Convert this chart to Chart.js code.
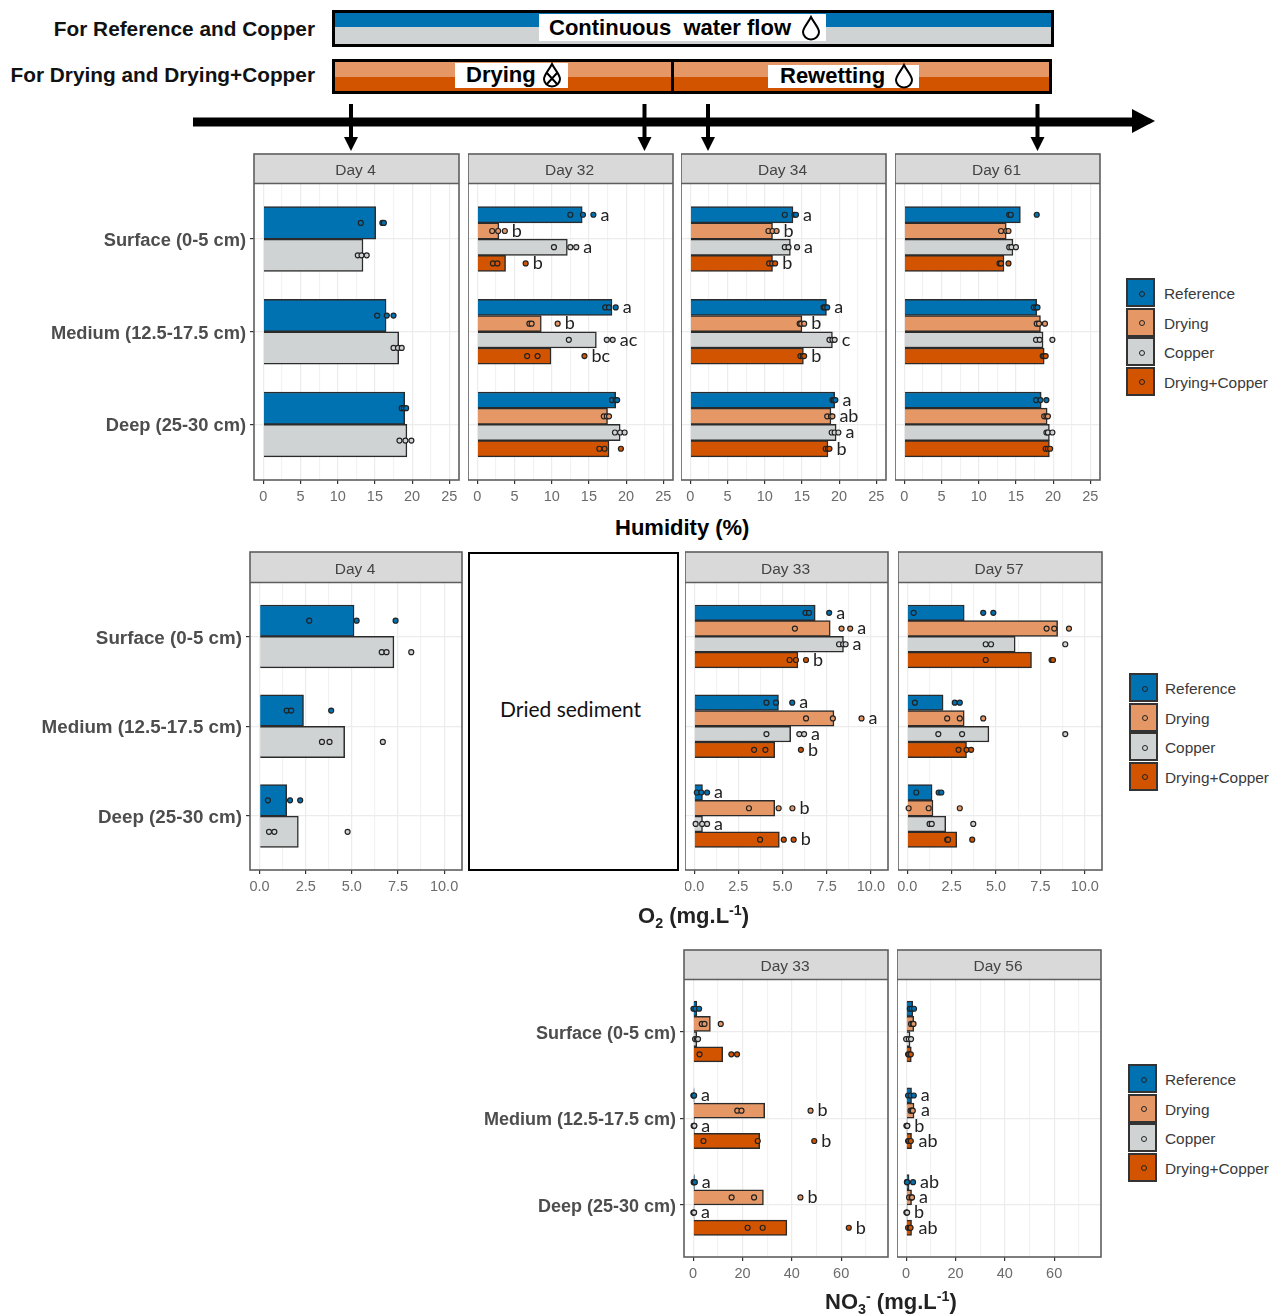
<!DOCTYPE html>
<html>
<head>
<meta charset="utf-8">
<title>Humidity, O2 and NO3 by depth</title>
<script src="https://cdn.jsdelivr.net/npm/chart.js@4/dist/chart.umd.min.js"></script>
<style>
  html, body { margin: 0; background: #fff; }
  #page { position: relative; width: 1284px; height: 1316px; overflow: hidden; font-family: "Liberation Sans", Arial, sans-serif; }
  #page canvas { position: absolute; }
  .txt { position: absolute; white-space: nowrap; line-height: 1; }
  .box { position: absolute; box-sizing: border-box; }
  .key { position: absolute; box-sizing: border-box; border: 2px solid #333; width: 29px; height: 29px; }
  .key i { position: absolute; left: 10.5px; top: 10.5px; width: 4px; height: 4px; border: 1px solid #222; border-radius: 50%; }
  sub, sup { font-size: 65%; line-height: 0; }
</style>
</head>
<body>
<div id="page">
  <svg id="deco" width="1284" height="160" style="position:absolute;left:0;top:0"></svg>
</div>
<script>
// depth rows and groups
const depths = ['Surface (0-5 cm)', 'Medium (12.5-17.5 cm)', 'Deep (25-30 cm)'];
const allSeries = ['Reference', 'Drying', 'Copper', 'Drying+Copper'];
const twoSeries = ['Reference', 'Copper'];
const colors = { 'Reference': '#0072B2', 'Drying': '#E59866', 'Copper': '#D0D3D4', 'Drying+Copper': '#D35400' };

// axis ticks
const humidityTicks = [0, 5, 10, 15, 20, 25];
const humidityLabels = ['0', '5', '10', '15', '20', '25'];
const o2Ticks = [0, 2.5, 5, 7.5, 10];
const o2Labels = ['0.0', '2.5', '5.0', '7.5', '10.0'];
const no3Ticks = [0, 20, 40, 60];
const no3Labels = ['0', '20', '40', '60'];

// Humidity (%), one row per depth, one entry per series
const humDay4Means = [[15.1, 13.4], [16.5, 18.2], [19.0, 19.3]];
const humDay4Points = [
  [[13.1, 16.0, 16.2], [12.7, 13.2, 13.9]],
  [[15.3, 16.6, 17.5], [17.5, 18.1, 18.6]],
  [[18.6, 18.9, 19.2], [18.3, 19.1, 19.9]]
];
const humDay32Means = [[14.1, 2.9, 12.1, 3.8], [18.1, 8.6, 16.0, 9.9], [18.6, 17.5, 19.2, 17.7]];
const humDay32Points = [
  [[12.5, 14.2, 15.6], [2.0, 2.8, 3.7], [10.3, 12.5, 13.3], [2.1, 2.7, 6.5]],
  [[17.2, 17.7, 18.6], [7.0, 7.3, 10.8], [12.3, 17.4, 18.2], [6.7, 8.1, 14.4]],
  [[18.1, 18.6, 18.8], [17.0, 17.4, 17.7], [18.5, 19.2, 19.8], [16.4, 17.1, 19.3]]
];
const humDay32Letters = [['a', 'b', 'a', 'b'], ['a', 'b', 'ac', 'bc'], null];
const humDay34Means = [[13.8, 11.05, 13.45, 11.05], [18.3, 15.0, 19.1, 15.2], [19.4, 18.9, 19.6, 18.5]];
const humDay34Points = [
  [[12.7, 14.0, 14.2], [10.5, 11.05, 11.6], [12.7, 13.2, 14.35], [10.6, 11.0, 11.4]],
  [[17.9, 18.1, 18.4], [14.7, 14.9, 15.3], [18.7, 19.1, 19.4], [14.8, 15.1, 15.3]],
  [[19.1, 19.3, 19.5], [18.4, 18.9, 19.1], [19.0, 19.4, 19.9], [18.2, 18.5, 18.7]]
];
const humDay34Letters = [['a', 'b', 'a', 'b'], ['a', 'b', 'c', 'b'], ['a', 'ab', 'a', 'b']];
const humDay61Means = [[15.6, 13.7, 14.6, 13.4], [17.8, 18.3, 18.65, 18.8], [18.4, 19.2, 19.5, 19.5]];
const humDay61Points = [
  [[14.1, 14.3, 17.8], [13.0, 13.7, 14.0], [14.1, 14.4, 15.0], [12.8, 13.0, 14.0]],
  [[17.4, 17.7, 17.9], [17.8, 18.1, 18.9], [17.7, 18.2, 19.9], [18.6, 18.8, 19.0]],
  [[17.7, 18.3, 19.1], [18.8, 19.1, 19.3], [19.1, 19.3, 19.9], [19.0, 19.3, 19.6]]
];

// O2 (mg/L)
const o2Day4Means = [[5.12, 7.28], [2.38, 4.61], [1.47, 2.1]];
const o2Day4Points = [
  [[2.69, 5.26, 7.37], [6.62, 6.88, 8.22]],
  [[1.47, 1.71, 3.88], [3.38, 3.79, 6.68]],
  [[0.45, 1.65, 2.2], [0.51, 0.8, 4.77]]
];
const o2Day33Means = [[6.85, 7.7, 8.45, 5.87], [4.77, 7.91, 5.46, 4.56], [0.47, 4.56, 0.47, 4.82]];
const o2Day33Points = [
  [[6.3, 6.5, 7.64], [5.7, 8.34, 8.83], [8.2, 8.43, 8.57], [5.4, 5.76, 6.33]],
  [[4.09, 4.63, 5.55], [6.33, 7.85, 9.47], [4.09, 5.95, 6.22], [3.39, 4.03, 6.04]],
  [[0.15, 0.4, 0.73], [3.1, 4.78, 5.56], [0.08, 0.45, 0.73], [3.73, 5.07, 5.63]]
];
const o2Day33Letters = [['a', 'a', 'a', 'b'], ['a', 'a', 'a', 'b'], ['a', 'b', 'a', 'b']];
const o2Day57Means = [[3.21, 8.47, 6.08, 7.0], [2.02, 3.21, 4.6, 3.34], [1.4, 1.45, 2.17, 2.79]];
const o2Day57Points = [
  [[0.36, 4.28, 4.85], [7.85, 8.28, 9.11], [4.42, 4.72, 8.9], [4.42, 8.13, 8.21]],
  [[0.43, 2.68, 2.96], [2.25, 2.96, 4.28], [1.75, 3.09, 8.9], [2.89, 3.34, 3.6]],
  [[0.51, 1.77, 1.92], [0.08, 1.21, 2.96], [1.26, 1.38, 3.72], [2.25, 2.3, 3.66]]
];

// NO3 (mg/L)
const no3Day33Means = [[1.5, 7.0, 1.5, 12.0], [0.4, 29.0, 0.5, 27.0], [0.5, 28.5, 0.4, 38.0]];
const no3Day33Points = [
  [[0.13, 0.94, 2.43], [3.5, 4.6, 11.2], [0.8, 1.48, 2.0], [2.6, 15.5, 17.8]],
  [[0.1, 0.3, 0.4], [17.9, 19.6, 47.6], [0.2, 0.4, 0.5], [4.2, 26.2, 49.1]],
  [[0.2, 0.4, 0.7], [15.6, 24.7, 43.5], [0.1, 0.3, 0.4], [22.1, 28.2, 63.1]]
];
const no3Day33Letters = [null, ['a', 'b', 'a', 'b'], ['a', 'b', 'a', 'b']];
const no3Day56Means = [[2.7, 3.1, 1.6, 2.1], [2.2, 3.2, 0.4, 2.2], [1.2, 2.2, 0.4, 2.2]];
const no3Day56Points = [
  [[1.5, 2.2, 3.2], [2.0, 2.7, 3.0], [0.0, 1.1, 2.0], [0.8, 1.2, 1.9]],
  [[0.8, 1.8, 3.1], [1.8, 2.4, 2.7], [0.1, 0.4, 0.5], [0.8, 1.2, 1.9]],
  [[0.3, 0.4, 2.8], [1.2, 2.2, 2.4], [0.1, 0.3, 0.4], [0.8, 1.5, 1.8]]
];
const no3Day56Letters = [null, ['a', 'a', 'b', 'ab'], ['ab', 'a', 'b', 'ab']];

const page = document.getElementById('page');

// ggplot style bar width is 0.7 of a row, split between the series
function barPos(row, s, n) {
  return row + (s - (n - 1) / 2) * 0.7 / n;
}

function makePanel(p) {
  const stripH = p.top - p.stripTop;
  const axisH = 32;
  const pad = 2;
  const canvas = document.createElement('canvas');
  canvas.width = p.right - p.left + p.margin + pad;
  canvas.height = p.bottom - p.stripTop + axisH + pad * 2;
  canvas.style.left = (p.left - p.margin) + 'px';
  canvas.style.top = (p.stripTop - pad) + 'px';
  page.appendChild(canvas);

  const step = p.ticks[1] - p.ticks[0];
  const allTicks = [];
  p.ticks.forEach(t => {
    allTicks.push(t);
    if (t + step / 2 < p.xMax) allTicks.push(t + step / 2);
  });
  const isMajor = v => p.ticks.includes(v);

  const barData = [], barColors = [];
  p.means.forEach((row, r) => row.forEach((v, s) => {
    barData.push({ x: v, y: barPos(r, s, p.series.length) });
    barColors.push(colors[p.series[s]]);
  }));
  const datasets = [{
    type: 'bar', indexAxis: 'y', data: barData, order: 2,
    backgroundColor: barColors, borderColor: '#2b2b2b', borderWidth: 1.5,
    categoryPercentage: 1, barPercentage: 1
  }];
  p.series.forEach((name, s) => {
    const pts = [];
    p.points.forEach((row, r) => row[s].forEach(v => pts.push({ x: v, y: barPos(r, s, p.series.length) })));
    datasets.push({
      type: 'scatter', label: name, data: pts, order: 1,
      backgroundColor: colors[name], borderColor: '#222', borderWidth: 1.2, pointRadius: 2.5
    });
  });

  const frame = {
    id: 'frame',
    beforeDraw(chart) {
      const a = chart.chartArea, c = chart.ctx;
      c.save();
      c.fillStyle = '#D9D9D9';
      c.fillRect(a.left, a.top - stripH, a.right - a.left, stripH);
      c.restore();
    },
    afterDraw(chart) {
      const a = chart.chartArea, c = chart.ctx;
      c.save();
      c.strokeStyle = '#5e5e5e';
      c.lineWidth = 1.6;
      c.strokeRect(a.left, a.top - stripH, a.right - a.left, a.bottom - a.top + stripH);
      c.beginPath();
      c.moveTo(a.left, a.top);
      c.lineTo(a.right, a.top);
      c.stroke();
      c.fillStyle = '#444';
      c.font = '15.5px "Liberation Sans"';
      c.textAlign = 'center';
      c.textBaseline = 'middle';
      c.fillText(p.title, (a.left + a.right) / 2 - 1, a.top - stripH / 2 + 2);
      if (p.letters) {
        c.fillStyle = '#222';
        c.font = '18px Lato';
        c.textAlign = 'left';
        p.letters.forEach((row, r) => {
          if (!row) return;
          row.forEach((txt, s) => {
            const end = Math.max(p.means[r][s], ...p.points[r][s]);
            const px = chart.scales.x.getPixelForValue(end) + 7;
            const py = chart.scales.y.getPixelForValue(barPos(r, s, p.series.length));
            c.fillText(txt, px, py);
          });
        });
      }
      c.restore();
    }
  };

  new Chart(canvas, {
    data: { datasets },
    plugins: [frame],
    options: {
      responsive: false,
      animation: false,
      layout: { autoPadding: false, padding: { top: pad + stripH, right: pad, left: 0, bottom: pad } },
      plugins: { legend: { display: false }, tooltip: { enabled: false } },
      scales: {
        x: {
          type: 'linear', min: p.xMin, max: p.xMax,
          afterBuildTicks(scale) { scale.ticks = allTicks.map(value => ({ value })); },
          afterFit(scale) { scale.height = axisH; scale.paddingLeft = 0; scale.paddingRight = 0; },
          border: { display: false },
          grid: {
            color: ctx => isMajor(ctx.tick.value) ? '#ececec' : '#f2f2f2', lineWidth: 1.2,
            tickLength: 4,
            tickColor: ctx => isMajor(ctx.tick.value) ? '#333' : 'rgba(0,0,0,0)'
          },
          ticks: {
            autoSkip: false, maxRotation: 0, padding: 4,
            color: '#6b6b6b', font: { family: 'Liberation Sans', size: 14.5 },
            callback: v => { const i = p.ticks.indexOf(v); return i >= 0 ? p.tickLabels[i] : ''; }
          }
        },
        y: {
          type: 'linear', reverse: true, min: -0.6, max: 2.6, offset: false,
          afterBuildTicks(scale) { scale.ticks = depths.map((d, i) => ({ value: i })); },
          afterFit(scale) { scale.width = p.margin; scale.paddingTop = 0; scale.paddingBottom = 0; },
          border: { display: false },
          grid: { offset: false, color: '#ececec', lineWidth: 1.2, drawTicks: p.margin > 0, tickLength: 4, tickColor: '#333' },
          ticks: {
            display: p.margin > 0, autoSkip: false, padding: 4, labelOffset: 2,
            color: '#4d4d4d', font: { family: 'Liberation Sans', size: p.rowFont, weight: 'bold' },
            callback: v => depths[v]
          }
        }
      }
    }
  });
}

const humRow = { stripTop: 153.5, top: 183, bottom: 480, rowFont: 18.3, ticks: humidityTicks, tickLabels: humidityLabels, xMin: -1.25, xMax: 26.3 };
const o2Row = { stripTop: 552, top: 582.5, bottom: 870, rowFont: 18.8, ticks: o2Ticks, tickLabels: o2Labels, xMin: -0.52, xMax: 10.97 };
const no3Row = { stripTop: 950, top: 979.5, bottom: 1257, rowFont: 18, ticks: no3Ticks, tickLabels: no3Labels, xMin: -3.7, xMax: 79 };

[
  { ...humRow, title: 'Day 4', left: 254, right: 459, margin: 215, series: twoSeries, means: humDay4Means, points: humDay4Points },
  { ...humRow, title: 'Day 32', left: 467.5, right: 672.5, margin: 0, series: allSeries, means: humDay32Means, points: humDay32Points, letters: humDay32Letters },
  { ...humRow, title: 'Day 34', left: 681, right: 886, margin: 0, series: allSeries, means: humDay34Means, points: humDay34Points, letters: humDay34Letters },
  { ...humRow, title: 'Day 61', left: 894.5, right: 1099.5, margin: 0, series: allSeries, means: humDay61Means, points: humDay61Points },
  { ...o2Row, title: 'Day 4', left: 249.5, right: 461.5, margin: 215, series: twoSeries, means: o2Day4Means, points: o2Day4Points },
  { ...o2Row, title: 'Day 33', left: 685, right: 888.5, margin: 0, series: allSeries, means: o2Day33Means, points: o2Day33Points, letters: o2Day33Letters },
  { ...o2Row, title: 'Day 57', left: 898, right: 1102.5, margin: 0, series: allSeries, means: o2Day57Means, points: o2Day57Points },
  { ...no3Row, title: 'Day 33', left: 683.5, right: 888, margin: 215, series: allSeries, means: no3Day33Means, points: no3Day33Points, letters: no3Day33Letters },
  { ...no3Row, title: 'Day 56', left: 897, right: 1101.5, margin: 0, series: allSeries, means: no3Day56Means, points: no3Day56Points, letters: no3Day56Letters }
].forEach(makePanel);

// text and boxes around the charts
function addText(html, css) {
  const d = document.createElement('div');
  d.className = 'txt';
  d.innerHTML = html;
  Object.assign(d.style, css);
  page.appendChild(d);
  return d;
}
function addBox(css) {
  const d = document.createElement('div');
  d.className = 'box';
  Object.assign(d.style, css);
  page.appendChild(d);
  return d;
}

function addLegend(x, y, labelX) {
  allSeries.forEach((name, i) => {
    const key = document.createElement('div');
    key.className = 'key';
    key.style.left = x + 'px';
    key.style.top = (y + i * 29.6) + 'px';
    key.style.background = colors[name];
    const dot = document.createElement('i');
    dot.style.background = colors[name];
    key.appendChild(dot);
    page.appendChild(key);
    addText(name, { left: labelX + 'px', top: (y + 8 + i * 29.6) + 'px', fontSize: '15.4px', color: '#3a3a3a' });
  });
}
addLegend(1126, 278, 1164);
addLegend(1129, 673, 1165);
addLegend(1128, 1064, 1165);

// axis titles
addText('Humidity (%)', { left: '615px', top: '517px', fontSize: '22px', fontWeight: 'bold', color: '#000' });
addText('O<sub>2</sub> (mg.L<sup>-1</sup>)', { left: '638px', top: '905px', fontSize: '22px', fontWeight: 'bold', color: '#222' });
addText('NO<sub>3</sub><sup>-</sup> (mg.L<sup>-1</sup>)', { left: '825px', top: '1291px', fontSize: '22px', fontWeight: 'bold', color: '#222' });

// dried sediment box
addBox({ left: '468px', top: '552px', width: '211px', height: '319px', border: '2px solid #000' });
addText('Dried sediment', { left: '500px', top: '698px', fontSize: '21px', fontFamily: 'Lato', color: '#111' });

// timeline header
addBox({ left: '332px', top: '10px', width: '722px', height: '37px', border: '3px solid #000', background: 'linear-gradient(#0072B2 0 14px, #D0D3D4 14px)' });
addBox({ left: '332px', top: '59px', width: '720px', height: '35px', border: '3px solid #000', background: 'linear-gradient(#E59866 0 15px, #D35400 15px)' });
addBox({ left: '671px', top: '59px', width: '3px', height: '35px', background: '#000' });
addBox({ left: '539px', top: '14px', width: '287px', height: '27px', background: '#fff' });
addBox({ left: '455px', top: '63px', width: '113px', height: '25px', background: '#fff' });
addBox({ left: '768px', top: '65px', width: '151px', height: '23px', background: '#fff' });
addText('For Reference and Copper', { right: '969px', top: '19px', fontSize: '20.8px', fontWeight: 'bold', color: '#111' });
addText('For Drying and Drying+Copper', { right: '969px', top: '65px', fontSize: '20.8px', fontWeight: 'bold', color: '#111' });
addText('Continuous&nbsp; water flow', { left: '549px', top: '17px', fontSize: '22px', fontWeight: 'bold', color: '#000' });
addText('Drying', { left: '466px', top: '64px', fontSize: '22px', fontWeight: 'bold', color: '#000' });
addText('Rewetting', { left: '780px', top: '65px', fontSize: '22px', fontWeight: 'bold', color: '#000' });

const drop = (cx, cy, cross) => {
  const d = `M${cx} ${cy - 11} C${cx + 3} ${cy - 5} ${cx + 8} ${cy} ${cx + 8} ${cy + 4} A8 7.5 0 0 1 ${cx - 8} ${cy + 4} C${cx - 8} ${cy} ${cx - 3} ${cy - 5} ${cx} ${cy - 11} Z`;
  let s = `<path d="${d}" fill="#fff" stroke="#000" stroke-width="2"/>`;
  if (cross) s += `<path d="M${cx - 5} ${cy - 2} L${cx + 5} ${cy + 9} M${cx + 5} ${cy - 2} L${cx - 5} ${cy + 9}" stroke="#000" stroke-width="2"/>`;
  return s;
};
const arrowDown = x => `<rect x="${x - 2}" y="104" width="4" height="34" fill="#000"/><polygon points="${x - 7},137 ${x + 7},137 ${x},151" fill="#000"/>`;
document.getElementById('deco').innerHTML =
  drop(811, 28, false) + drop(552, 75, true) + drop(904, 76, false) +
  '<rect x="193" y="117.5" width="940" height="9" fill="#000"/>' +
  '<polygon points="1132,109 1155,121 1132,133" fill="#000"/>' +
  [351, 644.5, 708, 1037.5].map(arrowDown).join('');
page.appendChild(document.getElementById('deco'));
</script>
</body>
</html>
